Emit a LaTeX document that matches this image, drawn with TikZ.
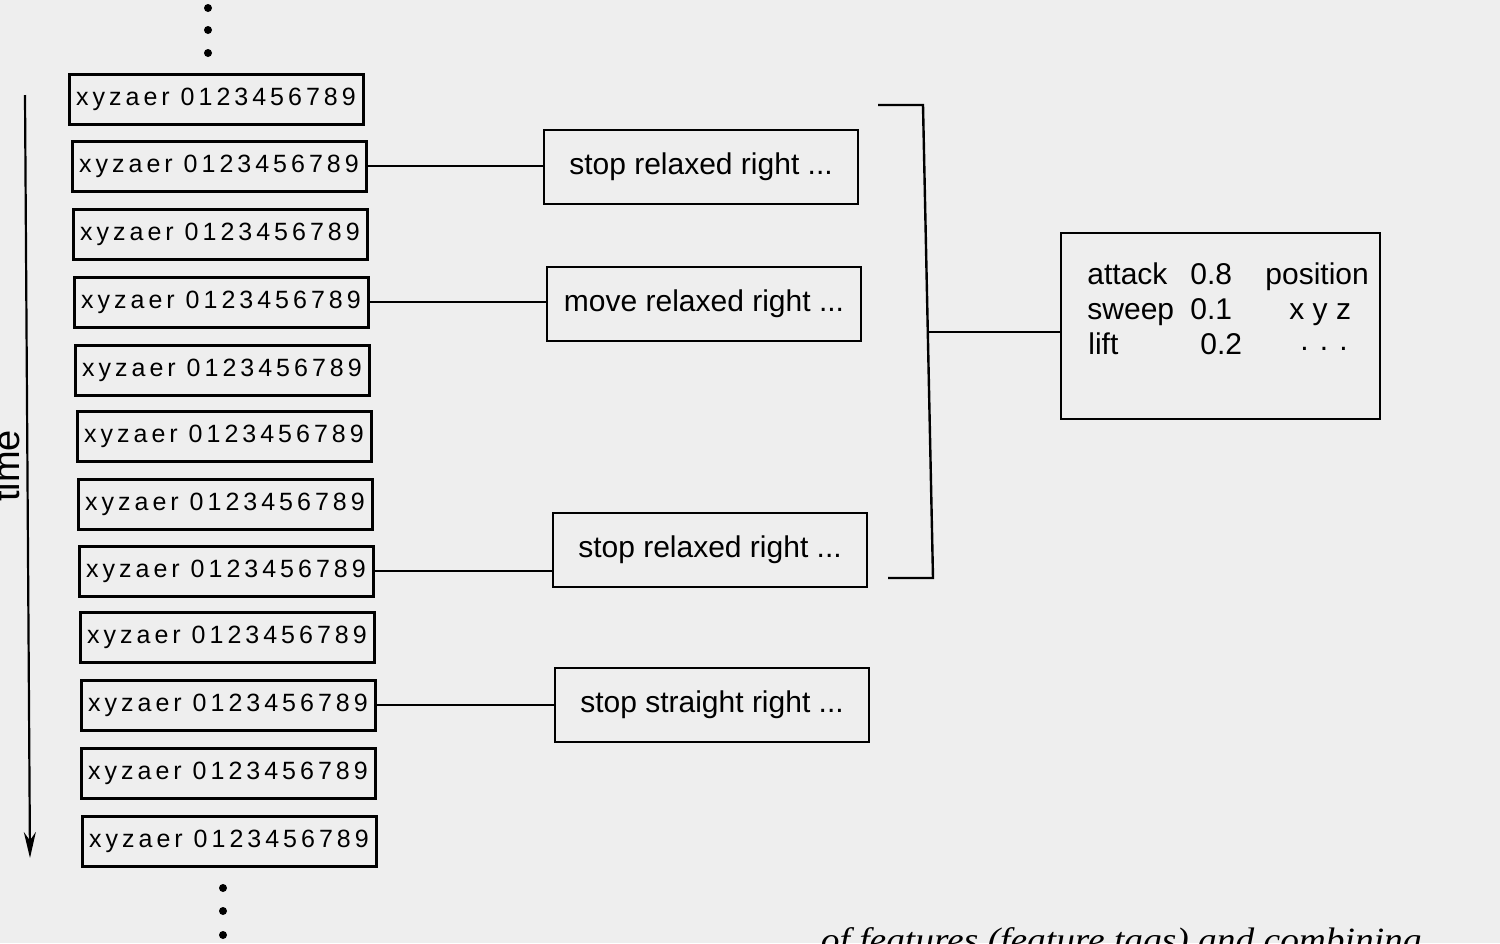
\documentclass[tikz,border=0pt]{standalone}
\usepackage{fontspec}
\setmainfont{Liberation Sans}
\newfontfamily\digfont[LetterSpace=16]{Liberation Sans}
\newfontfamily\capfont{Liberation Serif}
\usetikzlibrary{arrows.meta}
\definecolor{paper}{RGB}{238,238,238}
\begin{document}
\begin{tikzpicture}[x=0.5pt,y=-0.5pt,
  every node/.style={inner sep=0pt},
  rowbox/.style={draw, line width=1.5pt, minimum width=147pt, minimum height=25pt,
    font=\digfont\fontsize{12.5}{14}\selectfont},
  tagbox/.style={draw, line width=1.3pt, minimum width=157pt, minimum height=37pt,
    font=\fontsize{15}{18}\selectfont},
  featbox/.style={draw, line width=1.3pt, minimum width=159.5pt, minimum height=93pt},
  feat/.style={anchor=base west, font=\fontsize{15}{18}\selectfont},
  link/.style={line width=1pt},
  dotm/.style={fill=black}]
\fill[paper] (0,0) rectangle (1500,943);
\useasboundingbox (0,0) rectangle (1500,943);
\clip (0,0) rectangle (1500,943);

% time axis
\coordinate (t0) at (25,95);
\coordinate (t1) at (30,858);
\draw[line width=1.1pt, -{Stealth[length=13pt,width=6pt]}] (t0) -- (t1);
\node[rotate=90, anchor=base, font=\fontsize{19}{22}\selectfont] (time) at (19,466) {time};

% dots above and below
\fill[dotm] (208,8) circle (4);
\fill[dotm] (208,30) circle (4);
\fill[dotm] (208,53) circle (4);
\fill[dotm] (223,888) circle (4);
\fill[dotm] (223,911) circle (4);
\fill[dotm] (223,935) circle (4);

% frame rows
\foreach \i/\x/\y in {1/216/99,2/219/166,3/220/234,4/221/302,5/222/370,6/224/436,
                      7/225/504,8/226/571,9/227/637,10/228/705,11/228/773,12/229/841}
  \node[rowbox] (b\i) at (\x,\y) {xyzaer 0123456789};

% tag boxes
\node[tagbox] (A) at (701,167) {stop relaxed right ...};
\node[tagbox] (B) at (704,304) {move relaxed right ...};
\node[tagbox] (C) at (710,550) {stop relaxed right ...};
\node[tagbox] (D) at (712,705) {stop straight right ...};

\draw[link] (b2.east) -- (b2.east -| A.west);
\draw[link] (b4.east) -- (b4.east -| B.west);
\draw[link] (b8.east) -- (b8.east -| C.west);
\draw[link] (b10.east) -- (b10.east -| D.west);

% bracket
\coordinate (k1) at (878,105);
\coordinate (k2) at (923,105);
\coordinate (k3) at (933,578);
\coordinate (k4) at (888,578);
\coordinate (kj) at (929,332);
\draw[line width=1.2pt] (k1) -- (k2) -- (k3) -- (k4);

% feature box
\node[featbox] (R) at (1220.5,326) {};
\draw[link] (kj) -- (kj -| R.west);
\node[feat] (f1) at (1087,284) {attack};
\node[feat] (f2) at (1190,284) {0.8};
\node[feat] (f3) at (1265,284) {position};
\node[feat] (f4) at (1087,319) {sweep};
\node[feat] (f5) at (1190,319) {0.1};
\node[feat] (f6) at (1289,319) {x y z};
\node[feat] (f7) at (1088,354) {lift};
\node[feat] (f8) at (1200,354) {0.2};
\node[feat] (f9) at (1300,350) {. . .};

% clipped caption
\node[anchor=base east, xscale=1.1, font=\capfont\itshape\fontsize{17}{20}\selectfont] (cap) at (1422,951)
  {of features (feature tags) and combining};
\end{tikzpicture}
\end{document}
